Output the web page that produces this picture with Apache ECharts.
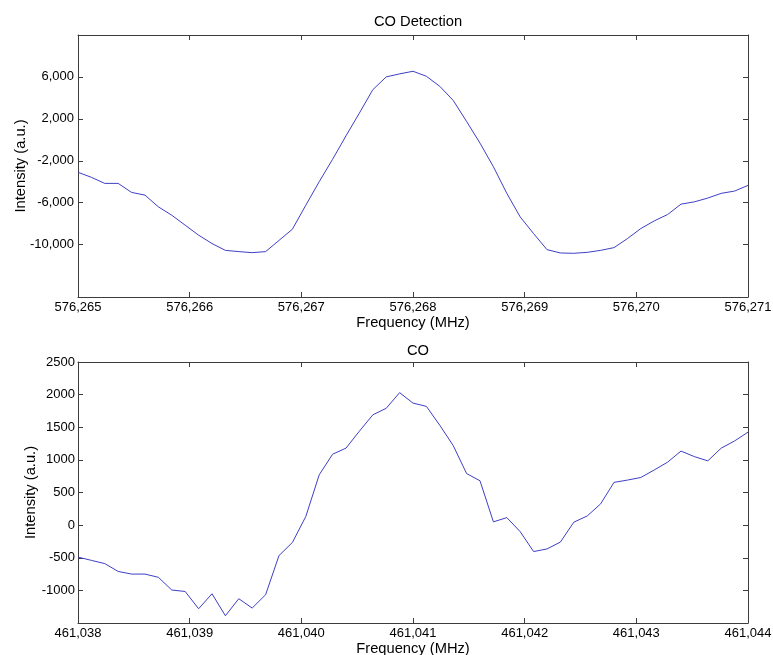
<!DOCTYPE html>
<html>
<head>
<meta charset="utf-8">
<title>CO Detection</title>
<script src="https://cdn.jsdelivr.net/npm/echarts@6/dist/echarts.min.js"></script>
<style>
  html, body { margin: 0; padding: 0; background: #fff; }
  #chart { width: 773px; height: 655px; }
</style>
</head>
<body>
<div id="chart"></div>
<script>
// upper panel: CO Detection
const freqTop = [
  576265.00, 576265.12, 576265.24, 576265.36, 576265.48, 576265.60, 576265.72, 576265.84, 576265.96,
  576266.08, 576266.20, 576266.32, 576266.44, 576266.56, 576266.68, 576266.80, 576266.92,
  576267.04, 576267.16, 576267.28, 576267.40, 576267.52, 576267.64, 576267.76, 576267.88,
  576268.00, 576268.12, 576268.24, 576268.36, 576268.48, 576268.60, 576268.72, 576268.84, 576268.96,
  576269.08, 576269.20, 576269.32, 576269.44, 576269.56, 576269.68, 576269.80, 576269.92,
  576270.04, 576270.16, 576270.28, 576270.40, 576270.52, 576270.64, 576270.76, 576270.88,
  576271.00
];
const intensityTop = [
  -3100, -3580, -4160, -4160, -5020, -5280, -6400, -7200, -8150,
  -9100, -9900, -10550, -10670, -10770, -10670, -9600, -8530,
  -6240, -4000, -1860, 380, 2550, 4780, 6000, 6290,
  6540, 6060, 5100, 3760, 1750, -320, -2570, -5110, -7360,
  -8950, -10480, -10800, -10830, -10740, -10550, -10290, -9430,
  -8470, -7740, -7130, -6140, -5920, -5560, -5110, -4890,
  -4350
];
const yTicksTop = [-10000, -6000, -2000, 2000, 6000];

// lower panel: CO
const freqBottom = [
  461038.00, 461038.12, 461038.24, 461038.36, 461038.48, 461038.60, 461038.72, 461038.84, 461038.96,
  461039.08, 461039.20, 461039.32, 461039.44, 461039.56, 461039.68, 461039.80, 461039.92,
  461040.04, 461040.16, 461040.28, 461040.40, 461040.52, 461040.64, 461040.76, 461040.88,
  461041.00, 461041.12, 461041.24, 461041.36, 461041.48, 461041.60, 461041.72, 461041.84, 461041.96,
  461042.08, 461042.20, 461042.32, 461042.44, 461042.56, 461042.68, 461042.80, 461042.92,
  461043.04, 461043.16, 461043.28, 461043.40, 461043.52, 461043.64, 461043.76, 461043.88,
  461044.00
];
const intensityBottom = [
  -490, -540, -590, -710, -750, -750, -800, -995, -1017,
  -1282, -1052, -1389, -1128, -1271, -1067, -466, -266,
  132, 770, 1087, 1180, 1440, 1690, 1790, 2030,
  1870, 1820, 1530, 1220, 790, 680, 50, 115, -100,
  -405, -365, -260, 45, 140, 325, 655, 690,
  730, 845, 965, 1135, 1050, 985, 1180, 1290,
  1425
];

const FONT = '"Liberation Sans", Arial, sans-serif';
const frameColor = '#3c3c3c';
const lineColor = '#3f3fc6';

function withComma(v) {
  return Math.round(v).toLocaleString('en-US');
}

const frameLine = { show: true, onZero: false, lineStyle: { color: frameColor, width: 1 } };
const innerTick = { show: true, inside: true, length: 5, lineStyle: { color: frameColor } };
const label = { color: '#000', fontFamily: FONT, fontSize: 13 };
const bigText = { color: '#000', fontFamily: FONT, fontSize: 14.7, fontWeight: 'normal' };

const chart = echarts.init(document.getElementById('chart'));
chart.setOption({
  animation: false,
  backgroundColor: '#fff',
  title: [
    { text: 'CO Detection', left: 413, top: 9.5, textAlign: 'center', textStyle: bigText },
    { text: 'CO', left: 413, top: 338, textAlign: 'center', textStyle: bigText }
  ],
  grid: [
    { left: 78, right: 25, top: 35, height: 262, outerBoundsMode: 'none' },
    { left: 78, right: 25, top: 362, height: 261, outerBoundsMode: 'none' }
  ],
  xAxis: [
    { type: 'value', gridIndex: 0, min: 576265, max: 576271, interval: 1,
      axisLine: frameLine, axisTick: innerTick, splitLine: { show: false },
      axisLabel: Object.assign({ margin: 4, formatter: withComma }, label),
      name: 'Frequency (MHz)', nameLocation: 'middle', nameGap: 18, nameMoveOverlap: false,
      nameTextStyle: bigText },
    { type: 'value', gridIndex: 0, position: 'top', min: 576265, max: 576271, interval: 1,
      axisLine: frameLine, axisTick: innerTick, splitLine: { show: false },
      axisLabel: { show: false } },
    { type: 'value', gridIndex: 1, min: 461038, max: 461044, interval: 1,
      axisLine: frameLine, axisTick: innerTick, splitLine: { show: false },
      axisLabel: Object.assign({ margin: 4, formatter: withComma }, label),
      name: 'Frequency (MHz)', nameLocation: 'middle', nameGap: 18, nameMoveOverlap: false,
      nameTextStyle: bigText },
    { type: 'value', gridIndex: 1, position: 'top', min: 461038, max: 461044, interval: 1,
      axisLine: frameLine, axisTick: innerTick, splitLine: { show: false },
      axisLabel: { show: false } }
  ],
  yAxis: [
    { type: 'value', gridIndex: 0, min: -15000, max: 10000,
      axisLine: frameLine,
      axisTick: Object.assign({ customValues: yTicksTop }, innerTick),
      splitLine: { show: false },
      axisLabel: Object.assign({ margin: 4, customValues: yTicksTop, formatter: withComma }, label),
      name: 'Intensity (a.u.)', nameLocation: 'middle', nameGap: 50, nameMoveOverlap: false,
      nameTextStyle: bigText },
    { type: 'value', gridIndex: 0, position: 'right', min: -15000, max: 10000,
      axisLine: frameLine,
      axisTick: Object.assign({ customValues: yTicksTop }, innerTick),
      splitLine: { show: false }, axisLabel: { show: false } },
    { type: 'value', gridIndex: 1, min: -1500, max: 2500, interval: 500,
      axisLine: frameLine, axisTick: innerTick, splitLine: { show: false },
      axisLabel: Object.assign({ margin: 3, showMinLabel: false, formatter: v => String(v) }, label),
      name: 'Intensity (a.u.)', nameLocation: 'middle', nameGap: 39.5, nameMoveOverlap: false,
      nameTextStyle: bigText },
    { type: 'value', gridIndex: 1, position: 'right', min: -1500, max: 2500, interval: 500,
      axisLine: frameLine, axisTick: innerTick, splitLine: { show: false },
      axisLabel: { show: false } }
  ],
  series: [
    { type: 'line', xAxisIndex: 0, yAxisIndex: 0, showSymbol: false, silent: true,
      lineStyle: { color: lineColor, width: 1 },
      data: freqTop.map((f, i) => [f, intensityTop[i]]) },
    { type: 'line', xAxisIndex: 2, yAxisIndex: 2, showSymbol: false, silent: true,
      lineStyle: { color: lineColor, width: 1 },
      data: freqBottom.map((f, i) => [f, intensityBottom[i]]) }
  ]
});
</script>
</body>
</html>
